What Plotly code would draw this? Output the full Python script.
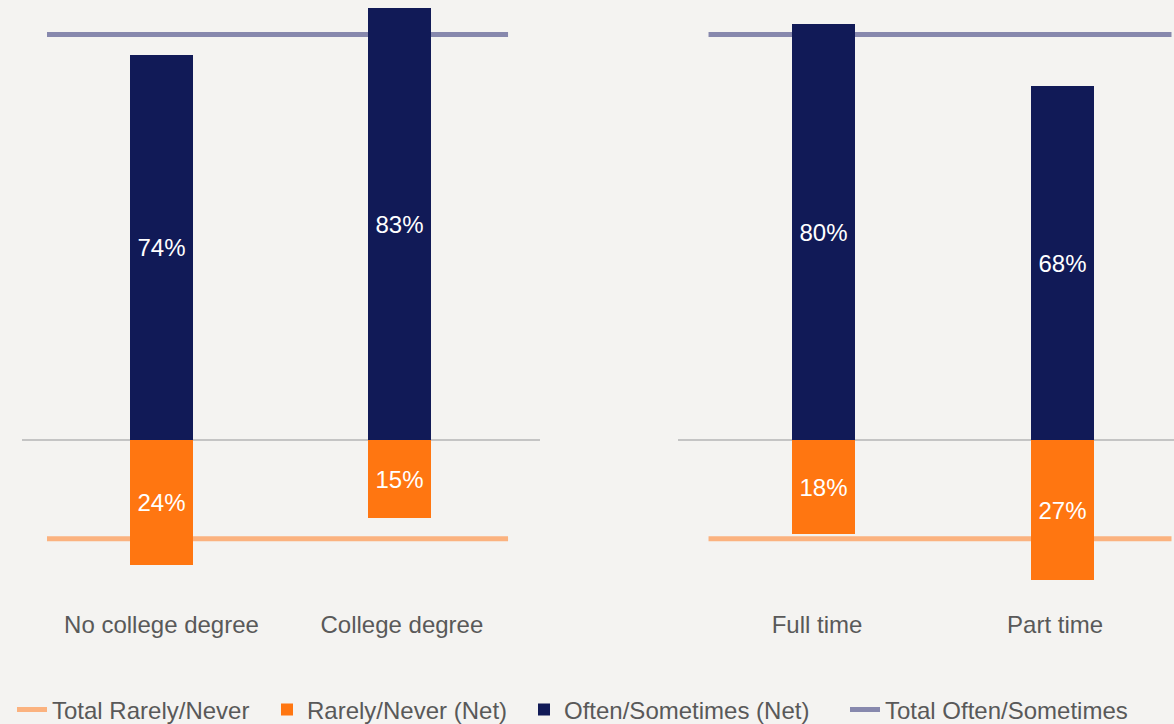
import plotly.graph_objects as go

# ---- data ----
left_categories = ["No college degree", "College degree"]
right_categories = ["Full time", "Part time"]
left_often = [74, 83]
left_rarely = [24, 15]
right_often = [80, 68]
right_rarely = [18, 27]
total_often = 78
total_rarely = 19

# ---- style ----
BG = "#F4F3F1"
NAVY = "#111A57"
ORANGE = "#FF7611"
LIGHT_ORANGE = "#FBB27F"
LAVENDER = "#8788AD"
TEXT = "#595959"
FONT = "Liberation Sans, Arial, sans-serif"

W, H = 1174, 724
BAR_W = 0.265
LINE_SPAN = (-0.481, 1.456)

fig = go.Figure()

def add_panel(cats, often, rarely, xa, ya, show):
    xs = list(range(len(cats)))
    # total reference lines (behind bars)
    fig.add_trace(go.Scatter(
        x=list(LINE_SPAN), y=[-total_rarely] * 2, mode="lines",
        line=dict(color=LIGHT_ORANGE, width=5), name="Total Rarely/Never",
        showlegend=show, legend="legend", xaxis=xa, yaxis=ya, zorder=0,
        hoverinfo="skip"))
    fig.add_trace(go.Scatter(
        x=list(LINE_SPAN), y=[total_often] * 2, mode="lines",
        line=dict(color=LAVENDER, width=5), name="Total Often/Sometimes",
        showlegend=show, legend="legend4", xaxis=xa, yaxis=ya, zorder=0,
        hoverinfo="skip"))
    fig.add_trace(go.Bar(
        x=xs, y=[-v for v in rarely], width=BAR_W, marker_color=ORANGE,
        marker_line_width=0, name="Rarely/Never (Net)",
        text=[f"{v}%" for v in rarely], textposition="inside",
        insidetextanchor="middle", textangle=0, constraintext="none",
        textfont=dict(color="white", size=24, family=FONT),
        showlegend=show, legend="legend2", xaxis=xa, yaxis=ya, zorder=1))
    fig.add_trace(go.Bar(
        x=xs, y=often, width=BAR_W, marker_color=NAVY,
        marker_line_width=0, name="Often/Sometimes (Net)",
        text=[f"{v}%" for v in often], textposition="inside",
        insidetextanchor="middle", textangle=0, constraintext="none",
        textfont=dict(color="white", size=24, family=FONT),
        showlegend=show, legend="legend3", xaxis=xa, yaxis=ya, zorder=1))

add_panel(left_categories, left_often, left_rarely, "x", "y", True)
add_panel(right_categories, right_often, right_rarely, "x2", "y2", False)

PLOT_BOTTOM = 600
ZERO_Y = 440
PX_PER_PCT = 5.2
y_range = [-(PLOT_BOTTOM - ZERO_Y) / PX_PER_PCT, ZERO_Y / PX_PER_PCT]

def xaxis(cats, dom_px, rng, tick_shift):
    return dict(domain=[dom_px[0] / W, dom_px[1] / W], range=rng,
                tickvals=[i + s for i, s in zip(range(len(cats)), tick_shift)],
                ticktext=cats, ticklabelstandoff=8,
                showgrid=False, zeroline=False, showline=False, ticks="",
                tickfont=dict(size=24, color=TEXT, family=FONT),
                fixedrange=True, automargin=False)

def yaxis(anchor):
    return dict(anchor=anchor, range=y_range, domain=[0, 1],
                showgrid=False, showticklabels=False, ticks="",
                zeroline=True, zerolinecolor="#C4C4C4", zerolinewidth=1.5,
                showline=False, fixedrange=True, automargin=False)

def legend_at(x_px):
    return dict(orientation="h", xref="container", yref="container",
                x=x_px / W, xanchor="left", y=(H - 710) / H, yanchor="middle",
                font=dict(size=24, color=TEXT, family=FONT),
                bgcolor="rgba(0,0,0,0)", borderwidth=0)

fig.update_layout(
    width=W, height=H, autosize=False,
    paper_bgcolor=BG, plot_bgcolor=BG,
    margin=dict(l=0, r=0, t=0, b=H - PLOT_BOTTOM, pad=0),
    barmode="relative", bargap=0,
    font=dict(family=FONT, color=TEXT),
    xaxis=xaxis(left_categories, (22, 540), [-0.5861, 1.5903], (0, 0.01)),
    xaxis2=xaxis(right_categories, (678, 1174), [-0.6088, 1.4665], (-0.027, -0.031)),
    yaxis=yaxis("x"),
    yaxis2=yaxis("x2"),
    legend=legend_at(12),
    legend2=legend_at(267),
    legend3=legend_at(524),
    legend4=legend_at(845),
    showlegend=True,
)

fig.write_html("out.html", config={"displayModeBar": False},
               post_script="document.body.style.margin='0';document.body.style.overflow='hidden';")
